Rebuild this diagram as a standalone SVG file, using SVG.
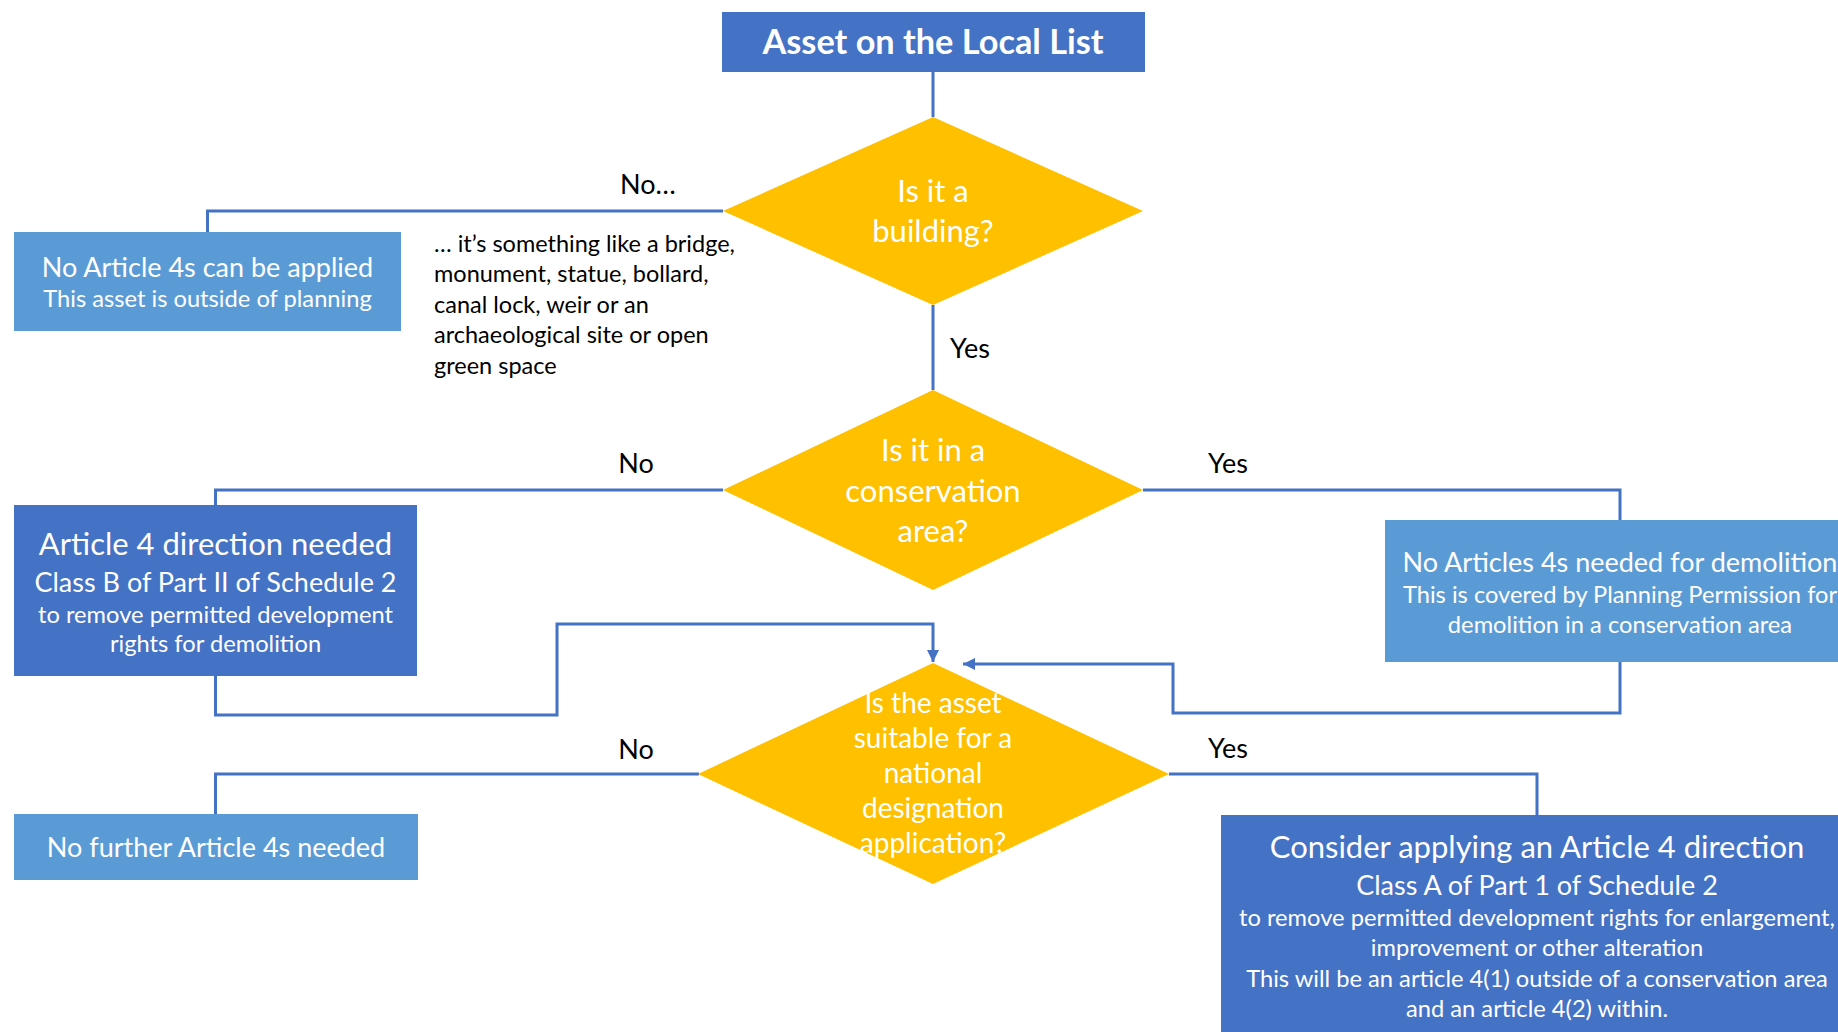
<svg xmlns="http://www.w3.org/2000/svg" width="1838" height="1032" viewBox="0 0 1838 1032">
<style>
text{font-family:Lato,"Open Sans","Liberation Sans",sans-serif;text-anchor:middle;fill:#fff}
.lbl{fill:#000;font-size:27px}
.note{fill:#000;font-size:23.5px;text-anchor:start}
.dk{fill:#4472C4}
.lt{fill:#5B9BD5}
.dm{fill:#FFC000}
.c{fill:none;stroke:#4472C4;stroke-width:3}
.h1{font-size:31px}
.h2{font-size:27px}
.s{font-size:23.7px}
</style>
<defs>
<marker id="ah" viewBox="0 0 10 10" refX="10" refY="5" markerWidth="4" markerHeight="4" markerUnits="strokeWidth" orient="auto">
<path d="M0,0 L10,5 L0,10 Z" fill="#4472C4"/>
</marker>
</defs>
<rect width="1838" height="1032" fill="#fff"/>
<g id="connectors">
<path class="c" d="M933,72 V117"/>
<path class="c" d="M723,211 H207.5 V232"/>
<path class="c" d="M933,305 V390"/>
<path class="c" d="M723,490 H215.5 V505"/>
<path class="c" d="M1143,490 H1620 V520"/>
<path class="c" d="M215.5,676 V715 H557 V624 H933 V662" marker-end="url(#ah)"/>
<path class="c" d="M1620,662 V713 H1173 V664 H963" marker-end="url(#ah)"/>
<path class="c" d="M699,774 H215.5 V814"/>
<path class="c" d="M1169,774 H1537 V815"/>
</g>
<g id="labels">
<text class="lbl" x="648" y="194">No…</text>
<text class="lbl" x="970" y="358">Yes</text>
<text class="lbl" x="636" y="473">No</text>
<text class="lbl" x="1228" y="473">Yes</text>
<text class="lbl" x="636" y="759">No</text>
<text class="lbl" x="1228" y="758">Yes</text>
</g>
<g id="n-title">
<rect class="dk" x="722" y="12" width="423" height="60"/>
<text x="933" y="54" style="font-size:34.3px;font-weight:bold">Asset on the Local List</text>
</g>
<g id="n-building">
<polygon class="dm" points="933,117 1143,211 933,305 723,211"/>
<text class="h1" x="933" y="202">Is it a</text>
<text class="h1" x="933" y="242">building?</text>
</g>
<g id="n-outside">
<rect class="lt" x="14" y="232" width="387" height="99"/>
<text class="h2" x="207.5" y="277">No Article 4s can be applied</text>
<text class="s" x="207.5" y="307">This asset is outside of planning</text>
</g>
<g id="n-note">
<text class="note" x="434" y="252">… it’s something like a bridge,</text>
<text class="note" x="434" y="282">monument, statue, bollard,</text>
<text class="note" x="434" y="313">canal lock, weir or an</text>
<text class="note" x="434" y="343">archaeological site or open</text>
<text class="note" x="434" y="374">green space</text>
</g>
<g id="n-conservation">
<polygon class="dm" points="933,390 1143,490 933,590 723,490"/>
<text class="h1" x="933" y="461">Is it in a</text>
<text class="h1" x="933" y="502">conservation</text>
<text class="h1" x="933" y="542">area?</text>
</g>
<g id="n-direction">
<rect class="dk" x="14" y="505" width="403" height="171"/>
<text class="h1" x="215.5" y="555">Article 4 direction needed</text>
<text class="h2" x="215.5" y="592">Class B of Part II of Schedule 2</text>
<text class="s" x="215.5" y="623">to remove permitted development</text>
<text class="s" x="215.5" y="652">rights for demolition</text>
</g>
<g id="n-covered">
<rect class="lt" x="1385" y="520" width="470" height="142"/>
<text class="h2" x="1620" y="572">No Articles 4s needed for demolition</text>
<text class="s" x="1620" y="603">This is covered by Planning Permission for</text>
<text class="s" x="1620" y="633">demolition in a conservation area</text>
</g>
<g id="n-national">
<polygon class="dm" points="933,663 1169,774 933,884 698,774"/>
<text x="933" y="713" style="font-size:28px">Is the asset</text>
<text x="933" y="748" style="font-size:28px">suitable for a</text>
<text x="933" y="783" style="font-size:28px">national</text>
<text x="933" y="818" style="font-size:28px">designation</text>
<text x="933" y="853" style="font-size:28px">application?</text>
</g>
<g id="n-nofurther">
<rect class="lt" x="14" y="814" width="404" height="66"/>
<text class="h2" x="216" y="857">No further Article 4s needed</text>
</g>
<g id="n-consider">
<rect class="dk" x="1221" y="815" width="632" height="230"/>
<text class="h1" x="1537" y="858">Consider applying an Article 4 direction</text>
<text class="h2" x="1537" y="895">Class A of Part 1 of Schedule 2</text>
<text class="s" x="1537" y="926">to remove permitted development rights for enlargement,</text>
<text class="s" x="1537" y="956">improvement or other alteration</text>
<text class="s" x="1537" y="987">This will be an article 4(1) outside of a conservation area</text>
<text class="s" x="1537" y="1017">and an article 4(2) within.</text>
</g>
</svg>
